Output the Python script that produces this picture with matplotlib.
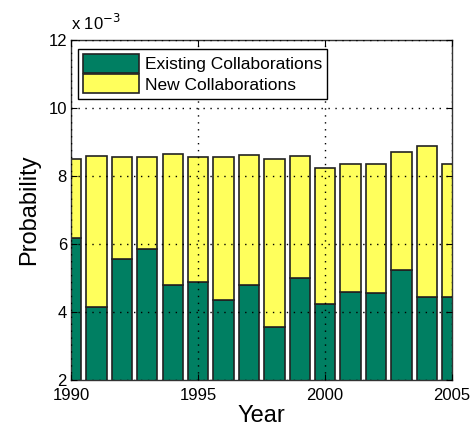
import numpy as np
import matplotlib
matplotlib.use('Agg')
from matplotlib import pyplot as plt

# probabilities in units of 1e-3
YEARS = [1990, 1991, 1992, 1993, 1994, 1995, 1996, 1997,
         1998, 1999, 2000, 2001, 2002, 2003, 2004, 2005]
EXISTING = [6.18, 4.16, 5.56, 5.84, 4.79, 4.87, 4.35, 4.79,
            3.56, 5.00, 4.24, 4.59, 4.55, 5.23, 4.44, 4.44]
TOTAL = [8.51, 8.59, 8.55, 8.55, 8.66, 8.55, 8.55, 8.63,
         8.50, 8.59, 8.23, 8.34, 8.34, 8.70, 8.87, 8.34]
NEW = [t - e for t, e in zip(TOTAL, EXISTING)]
YTICKS = [2, 4, 6, 8, 10, 12]
XTICKS = [1990, 1995, 2000, 2005]

GREEN = '#007f62'
YELLOW = '#ffff5c'

plt.rcParams['font.family'] = ['Liberation Sans', 'DejaVu Sans']

fig = plt.figure(figsize=(4.71, 4.29), dpi=100)
ax = fig.add_axes([0.151, 0.114, 0.809, 0.793])

ax.bar(YEARS, EXISTING, width=0.8, bottom=0, color=GREEN, edgecolor='#222222',
       linewidth=1.2, label='Existing Collaborations', zorder=1)
ax.bar(YEARS, NEW, width=0.8, bottom=EXISTING, color=YELLOW, edgecolor='#222222',
       linewidth=1.2, label='New Collaborations', zorder=1)

ax.set_xlim(1990, 2005)
ax.set_ylim(2, 12)
ax.set_xticks(XTICKS)
ax.set_yticks(YTICKS)
ax.tick_params(direction='in', labelsize=12, length=4, top=True, right=True)
ax.tick_params(axis='x', pad=6)
ax.tick_params(axis='y', pad=3)

# matlab style dotted grid drawn over the bars
ax.set_axisbelow(False)
ax.grid(True, color='black', linestyle=(0, (1, 4)), linewidth=1.0, zorder=3)

for s in ax.spines.values():
    s.set_linewidth(1.0)
    s.set_color('#333333')

ax.set_xlabel('Year', fontsize=17, labelpad=1)
ax.set_ylabel('Probability', fontsize=17, labelpad=6)
ax.text(0.0, 1.02, r'x 10$^{-3}$', transform=ax.transAxes, fontsize=12,
        ha='left', va='bottom')

leg = ax.legend(loc='upper left', bbox_to_anchor=(0.004, 0.99), fontsize=12.5,
                handlelength=3.2, handleheight=1.3, handletextpad=0.35,
                borderpad=0.3, labelspacing=0.1, fancybox=False, framealpha=1,
                borderaxespad=0.3)
leg.get_frame().set_edgecolor('black')
leg.get_frame().set_linewidth(1.0)
leg.set_zorder(5)

fig.savefig('out.png', dpi=100)
